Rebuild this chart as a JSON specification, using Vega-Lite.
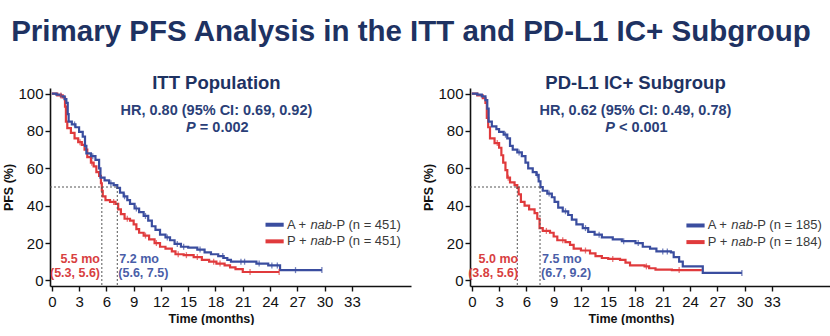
{
  "$schema": "https://vega.github.io/schema/vega-lite/v6.json",
  "padding": {"left": 2, "top": 16, "right": 0, "bottom": 0},
  "title": {"text": "Primary PFS Analysis in the ITT and PD-L1 IC+ Subgroup", "fontSize": 29.5, "fontWeight": "bold", "color": "#1e3262", "anchor": "middle", "offset": 27, "dx": -6, "font": "Liberation Sans"},
  "datasets": {
    "itt": [
      {"arm": "P + nab-P", "t": 0, "s": 100}, {"arm": "P + nab-P", "t": 0.6, "s": 99}, {"arm": "P + nab-P", "t": 1.2, "s": 98}, {"arm": "P + nab-P", "t": 1.45, "s": 93}, {"arm": "P + nab-P", "t": 1.55, "s": 85}, {"arm": "P + nab-P", "t": 1.7, "s": 81.5}, {"arm": "P + nab-P", "t": 2.1, "s": 79}, {"arm": "P + nab-P", "t": 2.5, "s": 76}, {"arm": "P + nab-P", "t": 2.9, "s": 74}, {"arm": "P + nab-P", "t": 3.3, "s": 72.5}, {"arm": "P + nab-P", "t": 3.6, "s": 70}, {"arm": "P + nab-P", "t": 3.9, "s": 66}, {"arm": "P + nab-P", "t": 4.3, "s": 63}, {"arm": "P + nab-P", "t": 4.6, "s": 61}, {"arm": "P + nab-P", "t": 4.9, "s": 58}, {"arm": "P + nab-P", "t": 5.2, "s": 56}, {"arm": "P + nab-P", "t": 5.4, "s": 52}, {"arm": "P + nab-P", "t": 5.5, "s": 48}, {"arm": "P + nab-P", "t": 5.6, "s": 45}, {"arm": "P + nab-P", "t": 5.9, "s": 43}, {"arm": "P + nab-P", "t": 6.4, "s": 42}, {"arm": "P + nab-P", "t": 7.0, "s": 41}, {"arm": "P + nab-P", "t": 7.3, "s": 38}, {"arm": "P + nab-P", "t": 7.6, "s": 35.5}, {"arm": "P + nab-P", "t": 8.0, "s": 33}, {"arm": "P + nab-P", "t": 8.6, "s": 32}, {"arm": "P + nab-P", "t": 9.0, "s": 30}, {"arm": "P + nab-P", "t": 9.3, "s": 27.5}, {"arm": "P + nab-P", "t": 9.6, "s": 25.5}, {"arm": "P + nab-P", "t": 10.1, "s": 24}, {"arm": "P + nab-P", "t": 10.7, "s": 22}, {"arm": "P + nab-P", "t": 11.3, "s": 20}, {"arm": "P + nab-P", "t": 11.9, "s": 18}, {"arm": "P + nab-P", "t": 12.5, "s": 17}, {"arm": "P + nab-P", "t": 13.2, "s": 15.5}, {"arm": "P + nab-P", "t": 13.6, "s": 14}, {"arm": "P + nab-P", "t": 14.5, "s": 13.5}, {"arm": "P + nab-P", "t": 15.6, "s": 12.5}, {"arm": "P + nab-P", "t": 16.5, "s": 11}, {"arm": "P + nab-P", "t": 17.3, "s": 10}, {"arm": "P + nab-P", "t": 18.1, "s": 9}, {"arm": "P + nab-P", "t": 19.0, "s": 8}, {"arm": "P + nab-P", "t": 19.6, "s": 7}, {"arm": "P + nab-P", "t": 20.2, "s": 6}, {"arm": "P + nab-P", "t": 21.0, "s": 4.5}, {"arm": "P + nab-P", "t": 25.0, "s": 4.5},
      {"arm": "A + nab-P", "t": 0, "s": 100}, {"arm": "A + nab-P", "t": 0.5, "s": 99.5}, {"arm": "A + nab-P", "t": 1.0, "s": 98.5}, {"arm": "A + nab-P", "t": 1.4, "s": 97}, {"arm": "A + nab-P", "t": 1.6, "s": 95}, {"arm": "A + nab-P", "t": 1.75, "s": 89}, {"arm": "A + nab-P", "t": 1.85, "s": 85}, {"arm": "A + nab-P", "t": 2.2, "s": 83.5}, {"arm": "A + nab-P", "t": 2.6, "s": 82}, {"arm": "A + nab-P", "t": 3.0, "s": 79.5}, {"arm": "A + nab-P", "t": 3.4, "s": 77}, {"arm": "A + nab-P", "t": 3.65, "s": 72}, {"arm": "A + nab-P", "t": 3.8, "s": 68}, {"arm": "A + nab-P", "t": 4.3, "s": 66.5}, {"arm": "A + nab-P", "t": 4.8, "s": 64.5}, {"arm": "A + nab-P", "t": 5.2, "s": 60}, {"arm": "A + nab-P", "t": 5.35, "s": 55}, {"arm": "A + nab-P", "t": 5.8, "s": 53.5}, {"arm": "A + nab-P", "t": 6.3, "s": 52}, {"arm": "A + nab-P", "t": 6.8, "s": 51}, {"arm": "A + nab-P", "t": 7.2, "s": 49.5}, {"arm": "A + nab-P", "t": 7.5, "s": 47}, {"arm": "A + nab-P", "t": 7.9, "s": 45}, {"arm": "A + nab-P", "t": 8.3, "s": 43}, {"arm": "A + nab-P", "t": 8.6, "s": 41}, {"arm": "A + nab-P", "t": 9.1, "s": 38.5}, {"arm": "A + nab-P", "t": 9.6, "s": 36.5}, {"arm": "A + nab-P", "t": 10.1, "s": 34.5}, {"arm": "A + nab-P", "t": 10.6, "s": 32}, {"arm": "A + nab-P", "t": 11.0, "s": 29}, {"arm": "A + nab-P", "t": 11.4, "s": 27}, {"arm": "A + nab-P", "t": 11.9, "s": 24.5}, {"arm": "A + nab-P", "t": 12.5, "s": 23}, {"arm": "A + nab-P", "t": 13.0, "s": 21.5}, {"arm": "A + nab-P", "t": 13.5, "s": 19.5}, {"arm": "A + nab-P", "t": 14.2, "s": 18}, {"arm": "A + nab-P", "t": 15.0, "s": 17.5}, {"arm": "A + nab-P", "t": 16.0, "s": 16.5}, {"arm": "A + nab-P", "t": 16.8, "s": 15}, {"arm": "A + nab-P", "t": 17.5, "s": 14}, {"arm": "A + nab-P", "t": 18.3, "s": 13}, {"arm": "A + nab-P", "t": 18.9, "s": 12}, {"arm": "A + nab-P", "t": 19.3, "s": 11}, {"arm": "A + nab-P", "t": 19.7, "s": 10}, {"arm": "A + nab-P", "t": 21.5, "s": 10}, {"arm": "A + nab-P", "t": 22.5, "s": 9}, {"arm": "A + nab-P", "t": 23.8, "s": 8}, {"arm": "A + nab-P", "t": 25.1, "s": 5.5}, {"arm": "A + nab-P", "t": 29.7, "s": 5.5}
    ],
    "itt_c": [
      {"arm": "P + nab-P", "t": 1.0, "s": 99}, {"arm": "P + nab-P", "t": 3.1, "s": 74}, {"arm": "P + nab-P", "t": 4.4, "s": 63}, {"arm": "P + nab-P", "t": 6.8, "s": 42}, {"arm": "P + nab-P", "t": 8.3, "s": 33}, {"arm": "P + nab-P", "t": 10.3, "s": 24}, {"arm": "P + nab-P", "t": 11.5, "s": 20}, {"arm": "P + nab-P", "t": 13.9, "s": 14}, {"arm": "P + nab-P", "t": 14.8, "s": 13.5}, {"arm": "P + nab-P", "t": 16.0, "s": 12.5}, {"arm": "P + nab-P", "t": 17.8, "s": 10}, {"arm": "P + nab-P", "t": 18.5, "s": 9}, {"arm": "P + nab-P", "t": 21.8, "s": 4.5}, {"arm": "P + nab-P", "t": 25.0, "s": 4.5},
      {"arm": "A + nab-P", "t": 2.5, "s": 83.5}, {"arm": "A + nab-P", "t": 4.5, "s": 66.5}, {"arm": "A + nab-P", "t": 6.5, "s": 52}, {"arm": "A + nab-P", "t": 8.0, "s": 45}, {"arm": "A + nab-P", "t": 9.3, "s": 38.5}, {"arm": "A + nab-P", "t": 10.3, "s": 34.5}, {"arm": "A + nab-P", "t": 12.7, "s": 23}, {"arm": "A + nab-P", "t": 13.8, "s": 19.5}, {"arm": "A + nab-P", "t": 14.5, "s": 18}, {"arm": "A + nab-P", "t": 16.3, "s": 16.5}, {"arm": "A + nab-P", "t": 18.8, "s": 13}, {"arm": "A + nab-P", "t": 20.8, "s": 10}, {"arm": "A + nab-P", "t": 21.2, "s": 10}, {"arm": "A + nab-P", "t": 22.8, "s": 9}, {"arm": "A + nab-P", "t": 24.2, "s": 8}, {"arm": "A + nab-P", "t": 24.8, "s": 8}, {"arm": "A + nab-P", "t": 26.8, "s": 5.5}, {"arm": "A + nab-P", "t": 29.7, "s": 5.5}
    ],
    "pdl1": [
      {"arm": "P + nab-P", "t": 0, "s": 100}, {"arm": "P + nab-P", "t": 0.6, "s": 99}, {"arm": "P + nab-P", "t": 1.2, "s": 97.5}, {"arm": "P + nab-P", "t": 1.5, "s": 95}, {"arm": "P + nab-P", "t": 1.65, "s": 87}, {"arm": "P + nab-P", "t": 1.8, "s": 82}, {"arm": "P + nab-P", "t": 2.0, "s": 76}, {"arm": "P + nab-P", "t": 2.5, "s": 73.5}, {"arm": "P + nab-P", "t": 3.0, "s": 71}, {"arm": "P + nab-P", "t": 3.25, "s": 67}, {"arm": "P + nab-P", "t": 3.45, "s": 63}, {"arm": "P + nab-P", "t": 3.7, "s": 59}, {"arm": "P + nab-P", "t": 3.9, "s": 55}, {"arm": "P + nab-P", "t": 4.2, "s": 52.5}, {"arm": "P + nab-P", "t": 4.7, "s": 51}, {"arm": "P + nab-P", "t": 5.0, "s": 49.5}, {"arm": "P + nab-P", "t": 5.15, "s": 46}, {"arm": "P + nab-P", "t": 5.4, "s": 42}, {"arm": "P + nab-P", "t": 5.8, "s": 40}, {"arm": "P + nab-P", "t": 6.3, "s": 38}, {"arm": "P + nab-P", "t": 6.9, "s": 36}, {"arm": "P + nab-P", "t": 7.2, "s": 33}, {"arm": "P + nab-P", "t": 7.45, "s": 28}, {"arm": "P + nab-P", "t": 7.8, "s": 26.5}, {"arm": "P + nab-P", "t": 8.6, "s": 25.5}, {"arm": "P + nab-P", "t": 9.0, "s": 23.5}, {"arm": "P + nab-P", "t": 9.4, "s": 21.5}, {"arm": "P + nab-P", "t": 10.3, "s": 20.5}, {"arm": "P + nab-P", "t": 10.8, "s": 19}, {"arm": "P + nab-P", "t": 11.2, "s": 17}, {"arm": "P + nab-P", "t": 12.0, "s": 16}, {"arm": "P + nab-P", "t": 13.0, "s": 14.5}, {"arm": "P + nab-P", "t": 13.6, "s": 13}, {"arm": "P + nab-P", "t": 14.3, "s": 12}, {"arm": "P + nab-P", "t": 15.0, "s": 11.5}, {"arm": "P + nab-P", "t": 16.3, "s": 11}, {"arm": "P + nab-P", "t": 16.9, "s": 9.5}, {"arm": "P + nab-P", "t": 17.4, "s": 8}, {"arm": "P + nab-P", "t": 19.0, "s": 7.5}, {"arm": "P + nab-P", "t": 19.5, "s": 6.5}, {"arm": "P + nab-P", "t": 20.2, "s": 5.8}, {"arm": "P + nab-P", "t": 22.0, "s": 5.5}, {"arm": "P + nab-P", "t": 25.3, "s": 5.5},
      {"arm": "A + nab-P", "t": 0, "s": 100}, {"arm": "A + nab-P", "t": 0.6, "s": 99.5}, {"arm": "A + nab-P", "t": 1.1, "s": 98.5}, {"arm": "A + nab-P", "t": 1.5, "s": 96.5}, {"arm": "A + nab-P", "t": 1.7, "s": 92}, {"arm": "A + nab-P", "t": 1.85, "s": 85}, {"arm": "A + nab-P", "t": 2.2, "s": 82.5}, {"arm": "A + nab-P", "t": 2.7, "s": 81}, {"arm": "A + nab-P", "t": 3.0, "s": 79.5}, {"arm": "A + nab-P", "t": 3.5, "s": 78}, {"arm": "A + nab-P", "t": 3.9, "s": 76}, {"arm": "A + nab-P", "t": 4.2, "s": 72}, {"arm": "A + nab-P", "t": 4.5, "s": 70}, {"arm": "A + nab-P", "t": 5.0, "s": 68.5}, {"arm": "A + nab-P", "t": 5.5, "s": 66.5}, {"arm": "A + nab-P", "t": 5.9, "s": 63}, {"arm": "A + nab-P", "t": 6.2, "s": 60}, {"arm": "A + nab-P", "t": 6.7, "s": 58}, {"arm": "A + nab-P", "t": 7.1, "s": 56.5}, {"arm": "A + nab-P", "t": 7.35, "s": 53}, {"arm": "A + nab-P", "t": 7.55, "s": 50}, {"arm": "A + nab-P", "t": 7.8, "s": 48}, {"arm": "A + nab-P", "t": 8.3, "s": 46.5}, {"arm": "A + nab-P", "t": 8.8, "s": 44.5}, {"arm": "A + nab-P", "t": 9.1, "s": 42}, {"arm": "A + nab-P", "t": 9.5, "s": 39}, {"arm": "A + nab-P", "t": 10.0, "s": 37}, {"arm": "A + nab-P", "t": 10.6, "s": 35}, {"arm": "A + nab-P", "t": 11.0, "s": 32.5}, {"arm": "A + nab-P", "t": 11.5, "s": 30}, {"arm": "A + nab-P", "t": 12.2, "s": 28}, {"arm": "A + nab-P", "t": 12.8, "s": 26}, {"arm": "A + nab-P", "t": 13.5, "s": 24.5}, {"arm": "A + nab-P", "t": 14.3, "s": 23}, {"arm": "A + nab-P", "t": 15.5, "s": 22}, {"arm": "A + nab-P", "t": 16.5, "s": 21}, {"arm": "A + nab-P", "t": 18.0, "s": 20}, {"arm": "A + nab-P", "t": 18.8, "s": 18}, {"arm": "A + nab-P", "t": 19.6, "s": 17}, {"arm": "A + nab-P", "t": 20.3, "s": 15.5}, {"arm": "A + nab-P", "t": 21.9, "s": 15}, {"arm": "A + nab-P", "t": 22.2, "s": 12.5}, {"arm": "A + nab-P", "t": 22.8, "s": 10}, {"arm": "A + nab-P", "t": 23.2, "s": 7.5}, {"arm": "A + nab-P", "t": 25.4, "s": 4}, {"arm": "A + nab-P", "t": 29.7, "s": 4}
    ],
    "pdl1_c": [
      {"arm": "P + nab-P", "t": 2.8, "s": 73.5}, {"arm": "P + nab-P", "t": 4.0, "s": 55}, {"arm": "P + nab-P", "t": 8.2, "s": 26.5}, {"arm": "P + nab-P", "t": 10.0, "s": 21.5}, {"arm": "P + nab-P", "t": 12.5, "s": 16}, {"arm": "P + nab-P", "t": 15.5, "s": 11.5}, {"arm": "P + nab-P", "t": 19.2, "s": 7.5}, {"arm": "P + nab-P", "t": 22.8, "s": 5.5},
      {"arm": "A + nab-P", "t": 3.7, "s": 78}, {"arm": "A + nab-P", "t": 5.2, "s": 68.5}, {"arm": "A + nab-P", "t": 7.2, "s": 56.5}, {"arm": "A + nab-P", "t": 8.5, "s": 46.5}, {"arm": "A + nab-P", "t": 10.3, "s": 37}, {"arm": "A + nab-P", "t": 12.5, "s": 28}, {"arm": "A + nab-P", "t": 14.0, "s": 24.5}, {"arm": "A + nab-P", "t": 16.7, "s": 21}, {"arm": "A + nab-P", "t": 18.3, "s": 20}, {"arm": "A + nab-P", "t": 21.0, "s": 15.5}, {"arm": "A + nab-P", "t": 21.5, "s": 15.5}, {"arm": "A + nab-P", "t": 29.7, "s": 4}
    ]
  },
  "bounds": "flush",
  "spacing": 59,
  "hconcat": [
    {
      "width": 361, "height": 198,
      "layer": [
        {"data": {"name": "itt"}, "mark": {"type": "line", "interpolate": "step-after", "strokeWidth": 2.2},
         "encoding": {
           "x": {"field": "t", "type": "quantitative", "scale": {"domain": [-0.2, 39.5], "nice": false}, "axis": {"values": [0,3,6,9,12,15,18,21,24,27,30,33], "tickCount": 40, "labelOverlap": false, "title": "Time (months)", "titleX": 161}},
           "y": {"field": "s", "type": "quantitative", "scale": {"domain": [-3, 103], "nice": false}, "axis": {"values": [0,20,40,60,80,100], "tickCount": 40, "labelOverlap": false, "title": "PFS (%)"}},
           "color": {"field": "arm", "type": "nominal", "scale": {"domain": ["A + nab-P", "P + nab-P"], "range": ["#3a4d9f", "#e03a3c"]}, "legend": null}}},
        {"data": {"name": "itt_c"}, "mark": {"type": "tick", "orient": "vertical", "size": 6, "thickness": 1.3},
         "encoding": {"x": {"field": "t", "type": "quantitative"}, "y": {"field": "s", "type": "quantitative"}, "color": {"field": "arm", "type": "nominal"}}},
        {"data": {"values": [{}]}, "mark": {"type": "rule", "strokeDash": [2, 2], "color": "#555555", "strokeWidth": 1},
         "encoding": {"x": {"datum": -0.2}, "x2": {"datum": 7.2}, "y": {"datum": 50}}},
        {"data": {"values": [{}]}, "mark": {"type": "rule", "strokeDash": [2, 2], "color": "#555555", "strokeWidth": 1},
         "encoding": {"x": {"datum": 5.5}, "y": {"datum": 50}, "y2": {"datum": -3}}},
        {"data": {"values": [{}]}, "mark": {"type": "rule", "strokeDash": [2, 2], "color": "#555555", "strokeWidth": 1},
         "encoding": {"x": {"datum": 7.2}, "y": {"datum": 50}, "y2": {"datum": -3}}},
        {"data": {"values": [{}]}, "mark": {"type": "text", "text": "ITT Population", "fontSize": 18.5, "fontWeight": "bold", "color": "#1e3262", "align": "center", "baseline": "alphabetic"},
         "encoding": {"x": {"datum": 18.1}, "y": {"datum": 102.3}}},
        {"data": {"values": [{}]}, "mark": {"type": "text", "text": "HR, 0.80 (95% CI: 0.69, 0.92)", "fontSize": 14.5, "fontWeight": "bold", "color": "#2b3f78", "align": "center", "baseline": "alphabetic"},
         "encoding": {"x": {"datum": 18.1}, "y": {"datum": 88.4}}},
        {"data": {"values": [{}]}, "mark": {"type": "text", "text": "P", "fontSize": 14.5, "fontWeight": "bold", "fontStyle": "italic", "color": "#2b3f78", "align": "left", "baseline": "alphabetic", "dx": -31.2},
         "encoding": {"x": {"datum": 18.2}, "y": {"datum": 79.5}}},
        {"data": {"values": [{}]}, "mark": {"type": "text", "text": "= 0.002", "fontSize": 14.5, "fontWeight": "bold", "color": "#2b3f78", "align": "left", "baseline": "alphabetic", "dx": -17.5},
         "encoding": {"x": {"datum": 18.2}, "y": {"datum": 79.5}}},
        {"data": {"values": [{}]}, "mark": {"type": "text", "text": "5.5 mo", "fontSize": 12.5, "fontWeight": "bold", "color": "#d8403f", "align": "right", "baseline": "middle"},
         "encoding": {"x": {"datum": 5.3}, "y": {"datum": 11.6}}},
        {"data": {"values": [{}]}, "mark": {"type": "text", "text": "(5.3, 5.6)", "fontSize": 12.5, "fontWeight": "bold", "color": "#d8403f", "align": "right", "baseline": "middle"},
         "encoding": {"x": {"datum": 5.3}, "y": {"datum": 4.1}}},
        {"data": {"values": [{}]}, "mark": {"type": "text", "text": "7.2 mo", "fontSize": 12.5, "fontWeight": "bold", "color": "#4a5ea8", "align": "left", "baseline": "middle", "dx": 2},
         "encoding": {"x": {"datum": 7.2}, "y": {"datum": 11.6}}},
        {"data": {"values": [{}]}, "mark": {"type": "text", "text": "(5.6, 7.5)", "fontSize": 12.5, "fontWeight": "bold", "color": "#4a5ea8", "align": "left", "baseline": "middle", "dx": 1},
         "encoding": {"x": {"datum": 7.2}, "y": {"datum": 4.1}}},
        {"data": {"values": [{}]}, "mark": {"type": "rule", "color": "#3a4d9f", "strokeWidth": 4},
         "encoding": {"x": {"datum": 23.5}, "x2": {"datum": 25.5}, "y": {"datum": 29.8}}},
        {"data": {"values": [{}]}, "mark": {"type": "rule", "color": "#e03a3c", "strokeWidth": 4},
         "encoding": {"x": {"datum": 23.5}, "x2": {"datum": 25.5}, "y": {"datum": 20.9}}},
        {"data": {"values": [{}]}, "mark": {"type": "text", "text": "A +", "fontSize": 13, "color": "#3a3a3a", "align": "left", "baseline": "middle"},
         "encoding": {"x": {"datum": 25.85}, "y": {"datum": 29.8}}},
        {"data": {"values": [{}]}, "mark": {"type": "text", "text": "nab", "fontSize": 13, "fontStyle": "italic", "color": "#3a3a3a", "align": "left", "baseline": "middle", "dx": 23.5},
         "encoding": {"x": {"datum": 25.85}, "y": {"datum": 29.8}}},
        {"data": {"values": [{}]}, "mark": {"type": "text", "text": "-P (n = 451)", "fontSize": 13, "color": "#3a3a3a", "align": "left", "baseline": "middle", "dx": 45.2},
         "encoding": {"x": {"datum": 25.85}, "y": {"datum": 29.8}}},
        {"data": {"values": [{}]}, "mark": {"type": "text", "text": "P +", "fontSize": 13, "color": "#3a3a3a", "align": "left", "baseline": "middle"},
         "encoding": {"x": {"datum": 25.85}, "y": {"datum": 20.9}}},
        {"data": {"values": [{}]}, "mark": {"type": "text", "text": "nab", "fontSize": 13, "fontStyle": "italic", "color": "#3a3a3a", "align": "left", "baseline": "middle", "dx": 23.5},
         "encoding": {"x": {"datum": 25.85}, "y": {"datum": 20.9}}},
        {"data": {"values": [{}]}, "mark": {"type": "text", "text": "-P (n = 451)", "fontSize": 13, "color": "#3a3a3a", "align": "left", "baseline": "middle", "dx": 45.2},
         "encoding": {"x": {"datum": 25.85}, "y": {"datum": 20.9}}}
      ]
    },
    {
      "width": 361, "height": 198,
      "layer": [
        {"data": {"name": "pdl1"}, "mark": {"type": "line", "interpolate": "step-after", "strokeWidth": 2.2},
         "encoding": {
           "x": {"field": "t", "type": "quantitative", "scale": {"domain": [-0.2, 39.5], "nice": false}, "axis": {"values": [0,3,6,9,12,15,18,21,24,27,30,33], "tickCount": 40, "labelOverlap": false, "title": "Time (months)", "titleX": 161}},
           "y": {"field": "s", "type": "quantitative", "scale": {"domain": [-3, 103], "nice": false}, "axis": {"values": [0,20,40,60,80,100], "tickCount": 40, "labelOverlap": false, "title": "PFS (%)"}},
           "color": {"field": "arm", "type": "nominal", "scale": {"domain": ["A + nab-P", "P + nab-P"], "range": ["#3a4d9f", "#e03a3c"]}, "legend": null}}},
        {"data": {"name": "pdl1_c"}, "mark": {"type": "tick", "orient": "vertical", "size": 6, "thickness": 1.3},
         "encoding": {"x": {"field": "t", "type": "quantitative"}, "y": {"field": "s", "type": "quantitative"}, "color": {"field": "arm", "type": "nominal"}}},
        {"data": {"values": [{}]}, "mark": {"type": "rule", "strokeDash": [2, 2], "color": "#555555", "strokeWidth": 1},
         "encoding": {"x": {"datum": -0.2}, "x2": {"datum": 7.5}, "y": {"datum": 50}}},
        {"data": {"values": [{}]}, "mark": {"type": "rule", "strokeDash": [2, 2], "color": "#555555", "strokeWidth": 1},
         "encoding": {"x": {"datum": 5.0}, "y": {"datum": 50}, "y2": {"datum": -3}}},
        {"data": {"values": [{}]}, "mark": {"type": "rule", "strokeDash": [2, 2], "color": "#555555", "strokeWidth": 1},
         "encoding": {"x": {"datum": 7.5}, "y": {"datum": 50}, "y2": {"datum": -3}}},
        {"data": {"values": [{}]}, "mark": {"type": "text", "text": "PD-L1 IC+ Subgroup", "fontSize": 18.5, "fontWeight": "bold", "color": "#1e3262", "align": "center", "baseline": "alphabetic"},
         "encoding": {"x": {"datum": 18.0}, "y": {"datum": 102.3}}},
        {"data": {"values": [{}]}, "mark": {"type": "text", "text": "HR, 0.62 (95% CI: 0.49, 0.78)", "fontSize": 14.5, "fontWeight": "bold", "color": "#2b3f78", "align": "center", "baseline": "alphabetic"},
         "encoding": {"x": {"datum": 18.0}, "y": {"datum": 88.4}}},
        {"data": {"values": [{}]}, "mark": {"type": "text", "text": "P", "fontSize": 14.5, "fontWeight": "bold", "fontStyle": "italic", "color": "#2b3f78", "align": "left", "baseline": "alphabetic", "dx": -31.2},
         "encoding": {"x": {"datum": 18.1}, "y": {"datum": 79.5}}},
        {"data": {"values": [{}]}, "mark": {"type": "text", "text": "< 0.001", "fontSize": 14.5, "fontWeight": "bold", "color": "#2b3f78", "align": "left", "baseline": "alphabetic", "dx": -17.5},
         "encoding": {"x": {"datum": 18.1}, "y": {"datum": 79.5}}},
        {"data": {"values": [{}]}, "mark": {"type": "text", "text": "5.0 mo", "fontSize": 12.5, "fontWeight": "bold", "color": "#d8403f", "align": "right", "baseline": "middle"},
         "encoding": {"x": {"datum": 5.1}, "y": {"datum": 11.7}}},
        {"data": {"values": [{}]}, "mark": {"type": "text", "text": "(3.8, 5.6)", "fontSize": 12.5, "fontWeight": "bold", "color": "#d8403f", "align": "right", "baseline": "middle"},
         "encoding": {"x": {"datum": 5.1}, "y": {"datum": 4.1}}},
        {"data": {"values": [{}]}, "mark": {"type": "text", "text": "7.5 mo", "fontSize": 12.5, "fontWeight": "bold", "color": "#4a5ea8", "align": "left", "baseline": "middle", "dx": 2},
         "encoding": {"x": {"datum": 7.5}, "y": {"datum": 11.7}}},
        {"data": {"values": [{}]}, "mark": {"type": "text", "text": "(6.7, 9.2)", "fontSize": 12.5, "fontWeight": "bold", "color": "#4a5ea8", "align": "left", "baseline": "middle", "dx": 1},
         "encoding": {"x": {"datum": 7.5}, "y": {"datum": 4.1}}},
        {"data": {"values": [{}]}, "mark": {"type": "rule", "color": "#3a4d9f", "strokeWidth": 4},
         "encoding": {"x": {"datum": 23.6}, "x2": {"datum": 25.6}, "y": {"datum": 29.4}}},
        {"data": {"values": [{}]}, "mark": {"type": "rule", "color": "#e03a3c", "strokeWidth": 4},
         "encoding": {"x": {"datum": 23.6}, "x2": {"datum": 25.6}, "y": {"datum": 20.5}}},
        {"data": {"values": [{}]}, "mark": {"type": "text", "text": "A +", "fontSize": 13, "color": "#3a3a3a", "align": "left", "baseline": "middle"},
         "encoding": {"x": {"datum": 25.95}, "y": {"datum": 29.4}}},
        {"data": {"values": [{}]}, "mark": {"type": "text", "text": "nab", "fontSize": 13, "fontStyle": "italic", "color": "#3a3a3a", "align": "left", "baseline": "middle", "dx": 23.5},
         "encoding": {"x": {"datum": 25.95}, "y": {"datum": 29.4}}},
        {"data": {"values": [{}]}, "mark": {"type": "text", "text": "-P (n = 185)", "fontSize": 13, "color": "#3a3a3a", "align": "left", "baseline": "middle", "dx": 45.2},
         "encoding": {"x": {"datum": 25.95}, "y": {"datum": 29.4}}},
        {"data": {"values": [{}]}, "mark": {"type": "text", "text": "P +", "fontSize": 13, "color": "#3a3a3a", "align": "left", "baseline": "middle"},
         "encoding": {"x": {"datum": 25.95}, "y": {"datum": 20.5}}},
        {"data": {"values": [{}]}, "mark": {"type": "text", "text": "nab", "fontSize": 13, "fontStyle": "italic", "color": "#3a3a3a", "align": "left", "baseline": "middle", "dx": 23.5},
         "encoding": {"x": {"datum": 25.95}, "y": {"datum": 20.5}}},
        {"data": {"values": [{}]}, "mark": {"type": "text", "text": "-P (n = 184)", "fontSize": 13, "color": "#3a3a3a", "align": "left", "baseline": "middle", "dx": 45.2},
         "encoding": {"x": {"datum": 25.95}, "y": {"datum": 20.5}}}
      ]
    }
  ],
  "config": {
    "font": "Liberation Sans",
    "view": {"stroke": null},
    "axis": {"grid": false, "labelOverlap": false, "domainColor": "#111111", "domainWidth": 1.6, "tickColor": "#111111", "tickWidth": 1.4, "tickSize": 5, "labelFont": "Liberation Sans", "labelFontSize": 15, "labelColor": "#111111", "titleFont": "Liberation Sans", "titleFontSize": 12.5, "titleFontWeight": "bold", "titleColor": "#111111"},
    "axisX": {"labelPadding": 3, "titlePadding": 3, "labelFlush": false},
    "axisY": {"labelPadding": 2, "titlePadding": 2}
  }
}
